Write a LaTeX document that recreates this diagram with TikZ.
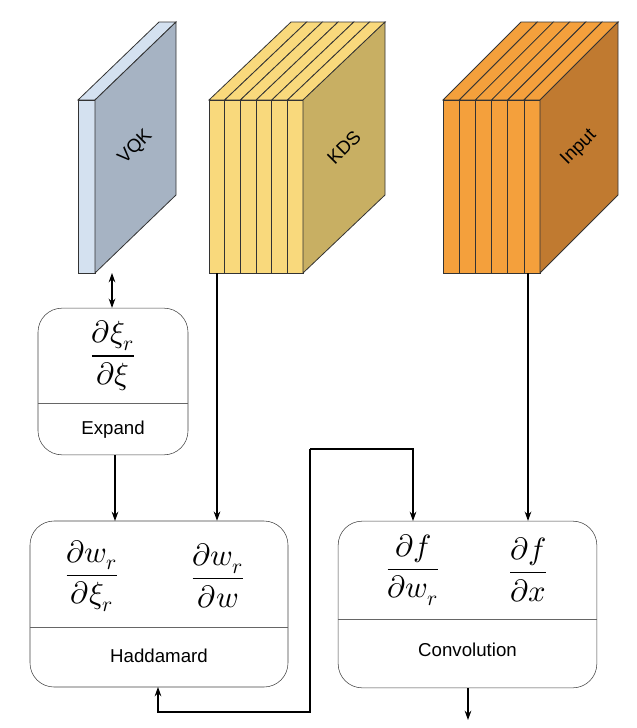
\documentclass[tikz,border=0pt]{standalone}
\usepackage{fontspec}
\setmainfont{Liberation Sans}
\usepackage{unicode-math}
\setmathfont{Latin Modern Math}
\usetikzlibrary{positioning,arrows.meta,calc}
\definecolor{vqkfront}{RGB}{212,225,240}
\definecolor{vqkside}{RGB}{166,179,195}
\definecolor{kdsfront}{RGB}{249,217,124}
\definecolor{kdsside}{RGB}{200,175,99}
\definecolor{inpfront}{RGB}{244,160,60}
\definecolor{inpside}{RGB}{192,122,48}
\tikzset{
  box/.style={draw=black!75, rounded corners=18pt, inner sep=0pt},
  frac/.style={font=\fontsize{23}{27}\selectfont},
  lbl/.style={font=\fontsize{14}{16}\selectfont},
  conn/.style={-{Stealth[length=7pt,width=5pt]}, thick},
  face/.style={draw=black!80, line width=0.6pt}
}
\begin{document}
\begin{tikzpicture}[x=0.75pt, y=-0.75pt]
\useasboundingbox (0,0) rectangle (636,728);

% VQK slab
\draw[face, fill=vqkfront] (78,100) -- (159,22) -- (176,22) -- (95,100) -- cycle;
\draw[face, fill=vqkfront] (78,100) rectangle (95,273);
\draw[face, fill=vqkside] (95,100) -- (176,22) -- (176,195) -- (95,273) -- cycle;
\node[lbl, rotate=45] (vqk) at (135.5,147.5) {VQK};

% KDS slab
\foreach \i in {0,...,5} {
    \draw[face, fill=kdsfront] ({209+15.7*\i},100) -- ({291+15.7*\i},22) -- ({306.7+15.7*\i},22) -- ({224.7+15.7*\i},100) -- cycle;
}
\foreach \i in {0,...,5} {
    \draw[face, fill=kdsfront] ({209+15.7*\i},100) rectangle ({224.7+15.7*\i},273);
}
\draw[face, fill=kdsside] (303,100) -- (385,22) -- (385,195) -- (303,273) -- cycle;
\node[lbl, rotate=45] (kds) at (344,147.5) {KDS};

% Input slab
\foreach \i in {0,...,5} {
    \draw[face, fill=inpfront] ({443+16.2*\i},100) -- ({521+16.2*\i},22) -- ({537.2+16.2*\i},22) -- ({459.2+16.2*\i},100) -- cycle;
}
\foreach \i in {0,...,5} {
    \draw[face, fill=inpfront] ({443+16.2*\i},100) rectangle ({459.2+16.2*\i},273);
}
\draw[face, fill=inpside] (540,100) -- (618,22) -- (618,195) -- (540,273) -- cycle;
\node[lbl, rotate=45] (input) at (579,147.5) {Input};

% Boxes
\node[box, minimum width=112.5pt, minimum height=110pt] (expand) at (113,381.5) {};
\draw[black!60] (38,403) -- (188,403);
\node[frac] (fexp) at (113,356) {$\dfrac{\partial\xi_r}{\partial\xi}$};
\node[lbl] (expandlbl) at (113,430) {Expand};

\node[box, minimum width=193.5pt, minimum height=124.5pt] (hadd) at (159,604) {};
\draw[black!60] (30,627) -- (288,627);
\node[frac] (fh1) at (92,576) {$\dfrac{\partial w_r}{\partial\xi_r}$};
\node[frac] (fh2) at (218,576) {$\dfrac{\partial w_r}{\partial w}$};
\node[lbl] (haddlbl) at (159,656) {Haddamard};

\node[box, minimum width=194pt, minimum height=125pt] (conv) at (467.5,604.5) {};
\draw[black!60] (338,619) -- (597,619);
\node[frac] (fc1) at (413,570) {$\dfrac{\partial f}{\partial w_r}$};
\node[frac] (fc2) at (528,570) {$\dfrac{\partial f}{\partial x}$};
\node[lbl] (convlbl) at (467.5,650) {Convolution};

% Connectors
\coordinate (vqkb) at (112,273);
\coordinate (kdsb) at (217,273);
\coordinate (inpb) at (528,273);
\coordinate (out) at (468,720);
\coordinate (cin) at (413,521);
\coordinate (c1) at (310,449);
\coordinate (c2) at (310,712);
\coordinate (hin) at (158,687);
\draw[conn, {Stealth[length=7pt,width=5pt]}-{Stealth[length=7pt,width=5pt]}] (vqkb) -- (vqkb |- expand.north);
\draw[conn] (115,455) -- (115,521);
\draw[conn] (kdsb) -- (kdsb |- hadd.north);
\draw[conn] (inpb) -- (inpb |- conv.north);
\draw[conn] (out |- conv.south) -- (out);
\draw[conn] (c1) -- (cin |- c1) -- (cin);
\draw[conn] (c1) -- (c2) -- (hin |- c2) -- (hin);
\end{tikzpicture}
\end{document}
